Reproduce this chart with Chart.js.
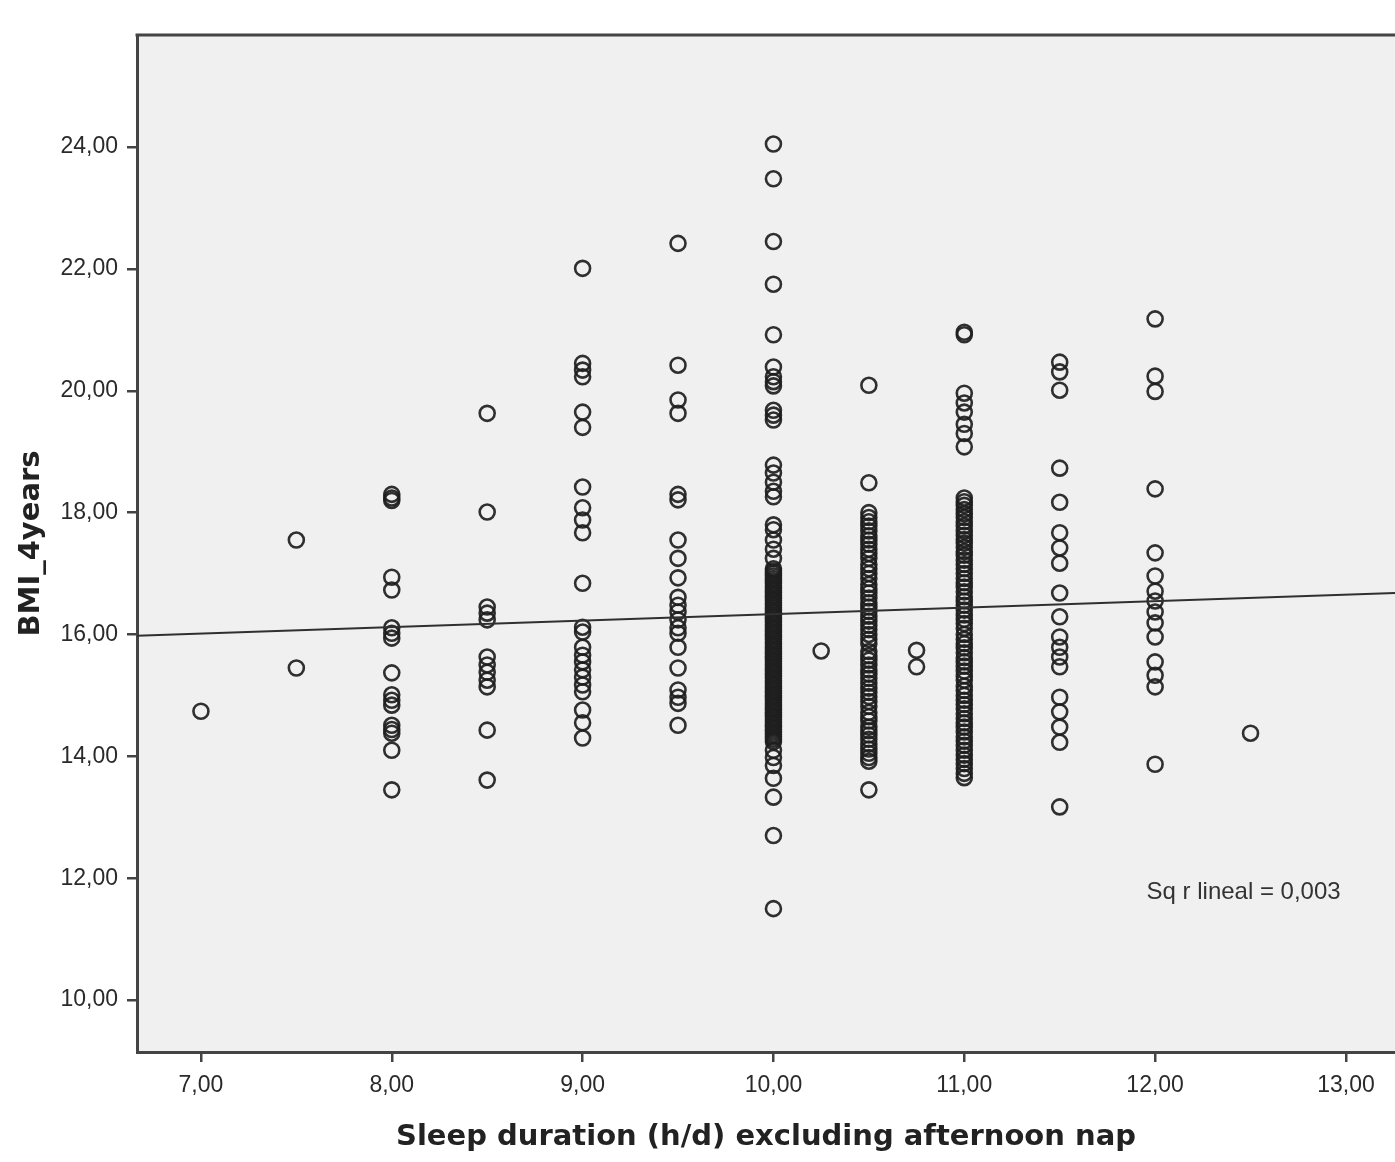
<!DOCTYPE html>
<html>
<head>
<meta charset="utf-8">
<script src="https://cdn.jsdelivr.net/npm/chart.js@4.4.1/dist/chart.umd.min.js"></script>
<style>
  html, body { margin: 0; padding: 0; background: #ffffff; overflow: hidden; }
  #c { display: block; }
</style>
</head>
<body>
<canvas id="c" width="1395" height="1162"></canvas>
<script>
// ---- Data ----
const xTicks = [7, 8, 9, 10, 11, 12, 13];
const yTicks = [10, 12, 14, 16, 18, 20, 22, 24];
const xRange = [6.665, 13.257];
const yRange = [9.147, 25.84];

const sleepHours = [7, 7.5, 8, 8.5, 9, 9.5, 10, 10.25, 10.5, 10.75, 11, 11.5, 12, 12.5];

const bmi7_00 = [14.74];
const bmi7_50 = [17.55, 15.45];
const bmi8_00 = [18.30, 18.24, 18.20, 16.94, 16.73, 16.11, 16.02, 15.94, 15.37, 15.01, 14.92, 14.84, 14.51, 14.44, 14.38, 14.10, 13.45];
const bmi8_50 = [19.63, 18.01, 16.45, 16.35, 16.24, 15.63, 15.50, 15.38, 15.25, 15.14, 14.43, 13.61];
const bmi9_00 = [22.01, 20.45, 20.34, 20.23, 19.65, 19.40, 18.42, 18.08, 17.88, 17.67, 16.84, 16.12, 16.04,
                 15.79, 15.66, 15.55, 15.42, 15.30, 15.17, 15.06, 14.76, 14.55, 14.30];
const bmi9_50 = [22.42, 20.42, 19.85, 19.63, 18.30, 18.21, 17.55, 17.25, 16.93, 16.61, 16.48, 16.37,
                 16.24, 16.11, 16.02, 15.79, 15.45, 15.09, 14.97, 14.87, 14.51];
const bmi10_00 = [24.05, 23.48, 22.45, 21.75, 20.92, 20.39, 20.23, 20.15, 20.08, 19.68, 19.60, 19.52,
                  18.78, 18.65, 18.50, 18.35, 18.26, 17.80, 17.72, 17.55, 17.40, 17.25,
                  17.08, 17.04, 17.00, 16.96, 16.92, 16.88, 16.84, 16.80, 16.76, 16.72, 16.68, 16.64,
                  16.60, 16.56, 16.52, 16.48, 16.44, 16.40, 16.36, 16.32, 16.28, 16.24, 16.20, 16.16,
                  16.12, 16.08, 16.04, 16.00, 15.96, 15.92, 15.88, 15.84, 15.80, 15.76, 15.72, 15.68,
                  15.64, 15.60, 15.56, 15.52, 15.48, 15.44, 15.40, 15.36, 15.32, 15.28, 15.24, 15.20,
                  15.16, 15.12, 15.08, 15.04, 15.00, 14.96, 14.92, 14.88, 14.84, 14.80, 14.76, 14.72,
                  14.68, 14.64, 14.60, 14.56, 14.52, 14.48, 14.44, 14.40, 14.36, 14.32, 14.28, 14.24,
                  14.10, 13.98, 13.85, 13.64, 13.33, 12.70, 11.50];
const bmi10_25 = [15.73];
const bmi10_50 = [20.09, 18.49, 18.00, 17.92, 17.85, 17.78, 17.70, 17.62, 17.55, 17.48, 17.40, 17.33,
                  17.25, 17.15, 17.08, 17.00, 16.92, 16.82, 16.75, 16.68, 16.60, 16.52, 16.45, 16.38,
                  16.30, 16.22, 16.15, 16.08, 16.00, 15.92, 15.85, 15.72, 15.65, 15.58, 15.50, 15.42,
                  15.35, 15.28, 15.20, 15.12, 15.05, 14.98, 14.90, 14.82, 14.72, 14.65, 14.58, 14.48,
                  14.42, 14.35, 14.28, 14.20, 14.12, 14.05, 13.98, 13.92, 13.45];
const bmi10_75 = [15.74, 15.47];
const bmi11_00 = [20.96, 20.92, 19.96, 19.80, 19.65, 19.45, 19.30, 19.08,
                  18.24, 18.18, 18.12, 18.05, 17.98, 17.92, 17.85, 17.78, 17.70, 17.63, 17.56, 17.50,
                  17.43, 17.36, 17.30, 17.22, 17.15, 17.08, 17.00, 16.92, 16.85, 16.78, 16.70, 16.62,
                  16.55, 16.48, 16.40, 16.32, 16.25, 16.18, 16.10, 16.00, 15.92, 15.85, 15.78, 15.70,
                  15.62, 15.55, 15.48, 15.40, 15.32, 15.25, 15.15, 15.08, 15.00, 14.92, 14.85, 14.78,
                  14.70, 14.62, 14.55, 14.48, 14.40, 14.32, 14.25, 14.18, 14.10, 14.02, 13.95, 13.88,
                  13.80, 13.72, 13.65];
const bmi11_50 = [20.47, 20.31, 20.01, 18.73, 18.17, 17.67, 17.42, 17.17, 16.68, 16.29, 15.96, 15.79,
                  15.63, 15.47, 14.97, 14.73, 14.48, 14.23, 13.17];
const bmi12_00 = [21.18, 20.24, 19.99, 18.39, 17.34, 16.96, 16.71, 16.55, 16.37, 16.19, 15.96, 15.55,
                  15.33, 15.14, 13.87];
const bmi12_50 = [14.38];

const bmiColumns = [bmi7_00, bmi7_50, bmi8_00, bmi8_50, bmi9_00, bmi9_50, bmi10_00, bmi10_25,
                    bmi10_50, bmi10_75, bmi11_00, bmi11_50, bmi12_00, bmi12_50];

// Linear fit line (endpoints at the axis limits)
const fitX = [6.665, 13.257];
const fitY = [15.98, 16.68];

const annotationText = 'Sq r lineal = 0,003';
const annotationPos = [11.955, 11.76];

// ---- Build datasets ----
const scatterPoints = [];
sleepHours.forEach((h, i) => bmiColumns[i].forEach(v => scatterPoints.push({x: h, y: v})));
const fitPoints = fitX.map((x, i) => ({x: x, y: fitY[i]}));

const fmt = v => Number(v).toFixed(2).replace('.', ',');

const framePlugin = {
  id: 'frame',
  beforeDraw(chart) {
    const {ctx, chartArea: a} = chart;
    ctx.save();
    ctx.fillStyle = '#f0f0f0';
    ctx.fillRect(a.left, a.top, a.right - a.left, a.bottom - a.top);
    ctx.restore();
  },
  afterDraw(chart) {
    const {ctx, chartArea: a} = chart;
    ctx.save();
    ctx.strokeStyle = '#444444';
    ctx.lineWidth = 3;
    ctx.beginPath();
    ctx.moveTo(a.left - 1.5, a.top);
    ctx.lineTo(a.right, a.top);
    ctx.stroke();
    const xs = chart.scales.x, ys = chart.scales.y;
    ctx.fillStyle = '#333333';
    ctx.font = '24px "Liberation Sans", Arial, sans-serif';
    ctx.textAlign = 'left';
    ctx.textBaseline = 'middle';
    ctx.fillText(annotationText, xs.getPixelForValue(annotationPos[0]), ys.getPixelForValue(annotationPos[1]));
    ctx.restore();
  }
};

new Chart(document.getElementById('c'), {
  type: 'scatter',
  data: {
    datasets: [
      {
        type: 'scatter',
        data: scatterPoints,
        pointStyle: 'circle',
        pointRadius: 7.5,
        pointHoverRadius: 7.5,
        borderWidth: 2.6,
        borderColor: 'rgba(30,30,30,0.92)',
        backgroundColor: 'rgba(0,0,0,0)',
        order: 2
      },
      {
        type: 'line',
        data: fitPoints,
        borderColor: '#303030',
        borderWidth: 2,
        pointRadius: 0,
        fill: false,
        tension: 0,
        order: 1
      }
    ]
  },
  options: {
    responsive: false,
    animation: false,
    layout: { autoPadding: false, padding: { top: 35, right: 0, left: 0, bottom: 0 } },
    plugins: { legend: { display: false }, tooltip: { enabled: false } },
    scales: {
      x: {
        type: 'linear',
        min: xRange[0],
        max: xRange[1],
        afterBuildTicks: s => { s.ticks = xTicks.map(v => ({value: v})); },
        afterFit: s => { s.height = 110; s.paddingLeft = 0; s.paddingRight = 0; },
        ticks: {
          callback: v => fmt(v),
          color: '#2a2a2a',
          font: { family: '"Liberation Sans", Arial, sans-serif', size: 23 },
          padding: 10,
          maxRotation: 0,
          autoSkip: false
        },
        grid: { drawOnChartArea: false, drawTicks: true, tickLength: 10, color: '#444444', lineWidth: 2.5 },
        border: { display: true, color: '#444444', width: 3 },
        title: {
          display: true,
          text: 'Sleep duration (h/d) excluding afternoon nap',
          color: '#222222',
          font: { family: '"DejaVu Sans", Verdana, sans-serif', size: 29, weight: 'bold' },
          padding: { top: 0, bottom: 7 }
        }
      },
      y: {
        type: 'linear',
        min: yRange[0],
        max: yRange[1],
        afterBuildTicks: s => { s.ticks = yTicks.map(v => ({value: v})); },
        afterFit: s => { s.width = 137; s.paddingTop = 0; s.paddingBottom = 0; },
        ticks: {
          callback: v => fmt(v),
          color: '#2a2a2a',
          font: { family: '"Liberation Sans", Arial, sans-serif', size: 23 },
          padding: 9,
          autoSkip: false
        },
        grid: { drawOnChartArea: false, drawTicks: true, tickLength: 10, color: '#444444', lineWidth: 2.5 },
        border: { display: true, color: '#444444', width: 3 },
        title: {
          display: true,
          text: 'BMI_4years',
          color: '#222222',
          font: { family: '"DejaVu Sans", Verdana, sans-serif', size: 29, weight: 'bold' },
          padding: { top: 14, bottom: 0 }
        }
      }
    }
  },
  plugins: [framePlugin]
});
</script>
</body>
</html>
